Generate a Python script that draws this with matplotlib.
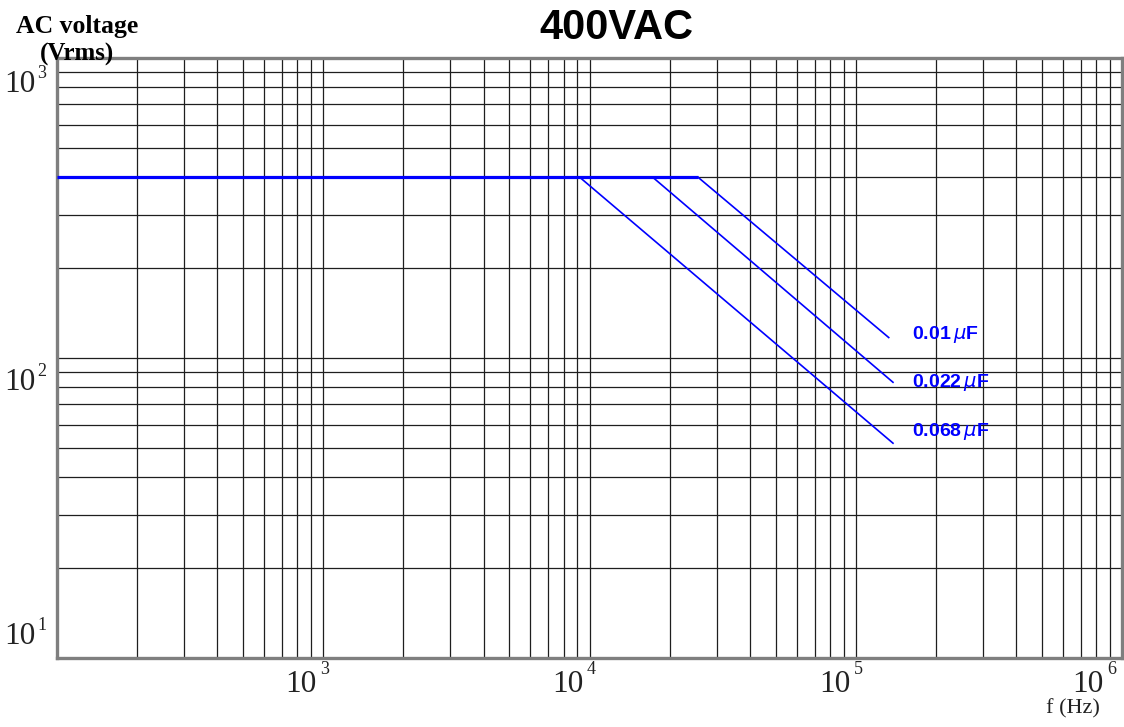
import matplotlib
matplotlib.use("Agg")
import matplotlib.pyplot as plt
import matplotlib.transforms as mtransforms

# rated voltage curve
rated_voltage = 400
freq_start_hz = 100
cap_labels = ["0.01", "0.022", "0.068"]
freq_break_hz = [25.6e3, 17.3e3, 9.2e3]
freq_end_hz = [1.33e5, 1.38e5, 1.38e5]
volt_end = [117, 83, 52]

# axis decades / tick labels
x_exps = [3, 4, 5, 6]
y_exps = [3, 2, 1]

serif = "Liberation Serif"
sans = "Liberation Sans"
blue = "#0000ff"

fig = plt.figure(figsize=(11.24, 7.27), dpi=100)
ax = fig.add_axes([57 / 1124, 69 / 727, 1065 / 1124, 600 / 727])
ax.set_xscale("log")
ax.set_yscale("log")
ax.set_xlim(1e2, 1e6)
ax.set_ylim(1e1, 1e3)

ax.grid(True, which="both", color="#1e1e1e", lw=0.9, zorder=0)
ax.tick_params(which="both", length=0, labelbottom=False, labelleft=False)
for sp in ax.spines.values():
    sp.set_color("#7f7f7f")
    sp.set_linewidth(2.4)

# flat part at rated voltage, then one derating line per capacitance
ax.plot([freq_start_hz, max(freq_break_hz)], [rated_voltage, rated_voltage],
        color=blue, lw=2.3, solid_capstyle="butt", zorder=3)
for fb, fe, ve in zip(freq_break_hz, freq_end_hz, volt_end):
    ax.plot([fb, fe], [rated_voltage, ve], color=blue, lw=1.2, zorder=3)

# capacitance labels
label_x = 1.63e5
label_y = [120, 83, 57]
for txt, ly in zip(cap_labels, label_y):
    ax.text(label_x, ly, txt + r"$\,\mu$F", color=blue, fontsize=14,
            fontweight="bold", family=sans, ha="left", va="center", zorder=4)

# x tick labels drawn by hand so the 10 and exponent sit like the original
xtrans = mtransforms.blended_transform_factory(ax.transData, ax.transAxes)
x_dx = [-22, -22, -21, -34]
for e, dx in zip(x_exps, x_dx):
    ax.annotate("10", xy=(10.0 ** e, 0), xycoords=xtrans, xytext=(dx, -27),
                textcoords="offset pixels", ha="center", va="center",
                fontsize=22.5, family=serif, color="#222222", annotation_clip=False)
    ax.annotate(str(e), xy=(10.0 ** e, 0), xycoords=xtrans, xytext=(dx + 19, -11),
                textcoords="offset pixels", ha="left", va="center",
                fontsize=13, family=serif, color="#222222", annotation_clip=False)

ytrans = mtransforms.blended_transform_factory(ax.transAxes, ax.transData)
y_dy = [-27, -24, 22]
for e, dy in zip(y_exps, y_dy):
    ax.annotate("10", xy=(0, 10.0 ** e), xycoords=ytrans, xytext=(-22, dy),
                textcoords="offset pixels", ha="right", va="center",
                fontsize=22.5, family=serif, color="#222222", annotation_clip=False)
    ax.annotate(str(e), xy=(0, 10.0 ** e), xycoords=ytrans, xytext=(-20, dy + 11),
                textcoords="offset pixels", ha="left", va="center",
                fontsize=13, family=serif, color="#222222", annotation_clip=False)

fig.text(616 / 1124, 1 - 28 / 727, "400VAC", ha="center", va="center",
         fontsize=30, fontweight="bold", family=sans)
fig.text(77 / 1124, 1 - 32.7 / 727, "AC voltage", ha="center", va="baseline",
         fontsize=18.5, fontweight="bold", family=serif)
fig.text(77 / 1124, 1 - 60.5 / 727, "(Vrms)", ha="center", va="baseline",
         fontsize=18, fontweight="bold", family=serif, zorder=5)
fig.text(1100 / 1124, 1 - 709 / 727, "f (Hz)", ha="right", va="center",
         fontsize=16, family=serif, color="#222222")

fig.savefig("out.png", dpi=100)
